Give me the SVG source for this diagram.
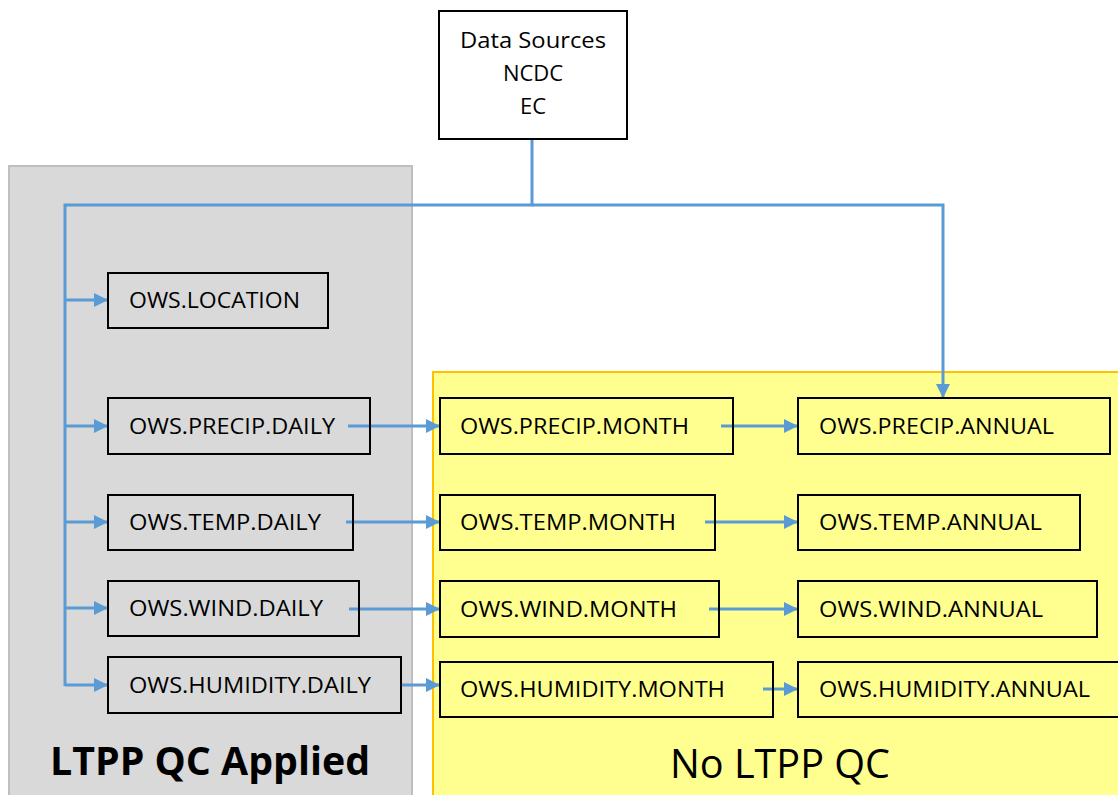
<svg xmlns="http://www.w3.org/2000/svg" width="1118" height="795" viewBox="0 0 1118 795">
<defs>
<marker id="ah" markerUnits="userSpaceOnUse" markerWidth="14" markerHeight="14" viewBox="0 0 14 14" refX="14" refY="7" orient="auto">
<path d="M0,0 L14,7 L0,14 Z" fill="#5b9bd5"/>
</marker>
<style>
.box{fill:none;stroke:#000;stroke-width:2}
.t{font-family:"Open Sans","Liberation Sans",sans-serif;font-size:22px;fill:#000}
.c{fill:none;stroke:#5b9bd5;stroke-width:3}
.a{fill:none;stroke:#5b9bd5;stroke-width:3;marker-end:url(#ah)}
</style>
</defs>
<rect width="1118" height="795" fill="#fff"/>
<g id="panel-ltpp">
<rect x="9" y="166" width="403" height="632" fill="#d9d9d9" stroke="#bfbfbf" stroke-width="2"/>
<text x="210" y="775" text-anchor="middle" font-family="Open Sans, Liberation Sans, sans-serif" font-weight="bold" font-size="40" textLength="320" lengthAdjust="spacingAndGlyphs">LTPP QC Applied</text>
</g>
<g id="panel-noqc">
<rect x="433" y="372" width="690" height="430" fill="#ffff8f" stroke="#ffc000" stroke-width="2"/>
<text x="780" y="778" text-anchor="middle" font-family="Open Sans, Liberation Sans, sans-serif" font-size="40" textLength="220" lengthAdjust="spacingAndGlyphs">No LTPP QC</text>
</g>
<g id="connectors">
<path class="c" d="M532,139 V205 H65 V686"/>
<path class="a" d="M532,205 H943 V398"/>
<path class="a" d="M65,300 H108"/>
<path class="a" d="M65,426 H108"/>
<path class="a" d="M65,522 H108"/>
<path class="a" d="M65,608 H108"/>
<path class="a" d="M65,685 H108"/>
<path class="a" d="M348,426 H440"/>
<path class="a" d="M346,522 H440"/>
<path class="a" d="M349,609 H440"/>
<path class="a" d="M401,685 H440"/>
<path class="a" d="M721,426 H798"/>
<path class="a" d="M705,522 H798"/>
<path class="a" d="M709,609 H798"/>
<path class="a" d="M763,689 H798"/>
</g>
<g id="data-sources">
<rect class="box" x="439" y="11" width="188" height="128" fill="#fff"/>
<text class="t" x="533" y="48" text-anchor="middle" textLength="146" lengthAdjust="spacingAndGlyphs">Data Sources</text>
<text class="t" x="533" y="81" text-anchor="middle">NCDC</text>
<text class="t" x="533" y="114" text-anchor="middle">EC</text>
</g>
<g id="ows-location">
<rect class="box" x="108" y="273" width="220" height="55"/>
<text class="t" x="129" y="308" textLength="171" lengthAdjust="spacingAndGlyphs">OWS.LOCATION</text>
</g>
<g id="ows-precip-daily">
<rect class="box" x="108" y="398" width="262" height="56"/>
<text class="t" x="129" y="434" textLength="206" lengthAdjust="spacingAndGlyphs">OWS.PRECIP.DAILY</text>
</g>
<g id="ows-temp-daily">
<rect class="box" x="108" y="495" width="245" height="55"/>
<text class="t" x="129" y="530" textLength="192" lengthAdjust="spacingAndGlyphs">OWS.TEMP.DAILY</text>
</g>
<g id="ows-wind-daily">
<rect class="box" x="108" y="581" width="251" height="55"/>
<text class="t" x="129" y="616" textLength="194" lengthAdjust="spacingAndGlyphs">OWS.WIND.DAILY</text>
</g>
<g id="ows-humidity-daily">
<rect class="box" x="108" y="657" width="293" height="56"/>
<text class="t" x="129" y="693" textLength="242" lengthAdjust="spacingAndGlyphs">OWS.HUMIDITY.DAILY</text>
</g>
<g id="ows-precip-month">
<rect class="box" x="440" y="398" width="293" height="56"/>
<text class="t" x="460" y="434" textLength="229" lengthAdjust="spacingAndGlyphs">OWS.PRECIP.MONTH</text>
</g>
<g id="ows-temp-month">
<rect class="box" x="440" y="495" width="275" height="55"/>
<text class="t" x="460" y="530" textLength="216" lengthAdjust="spacingAndGlyphs">OWS.TEMP.MONTH</text>
</g>
<g id="ows-wind-month">
<rect class="box" x="440" y="581" width="279" height="56"/>
<text class="t" x="460" y="617" textLength="217" lengthAdjust="spacingAndGlyphs">OWS.WIND.MONTH</text>
</g>
<g id="ows-humidity-month">
<rect class="box" x="440" y="662" width="333" height="55"/>
<text class="t" x="460" y="697" textLength="265" lengthAdjust="spacingAndGlyphs">OWS.HUMIDITY.MONTH</text>
</g>
<g id="ows-precip-annual">
<rect class="box" x="798" y="398" width="312" height="56"/>
<text class="t" x="819" y="434" textLength="235" lengthAdjust="spacingAndGlyphs">OWS.PRECIP.ANNUAL</text>
</g>
<g id="ows-temp-annual">
<rect class="box" x="798" y="495" width="282" height="55"/>
<text class="t" x="819" y="530" textLength="223" lengthAdjust="spacingAndGlyphs">OWS.TEMP.ANNUAL</text>
</g>
<g id="ows-wind-annual">
<rect class="box" x="798" y="581" width="299" height="56"/>
<text class="t" x="819" y="617" textLength="224" lengthAdjust="spacingAndGlyphs">OWS.WIND.ANNUAL</text>
</g>
<g id="ows-humidity-annual">
<rect class="box" x="798" y="662" width="330" height="55"/>
<text class="t" x="819" y="697" textLength="271" lengthAdjust="spacingAndGlyphs">OWS.HUMIDITY.ANNUAL</text>
</g>
</svg>
